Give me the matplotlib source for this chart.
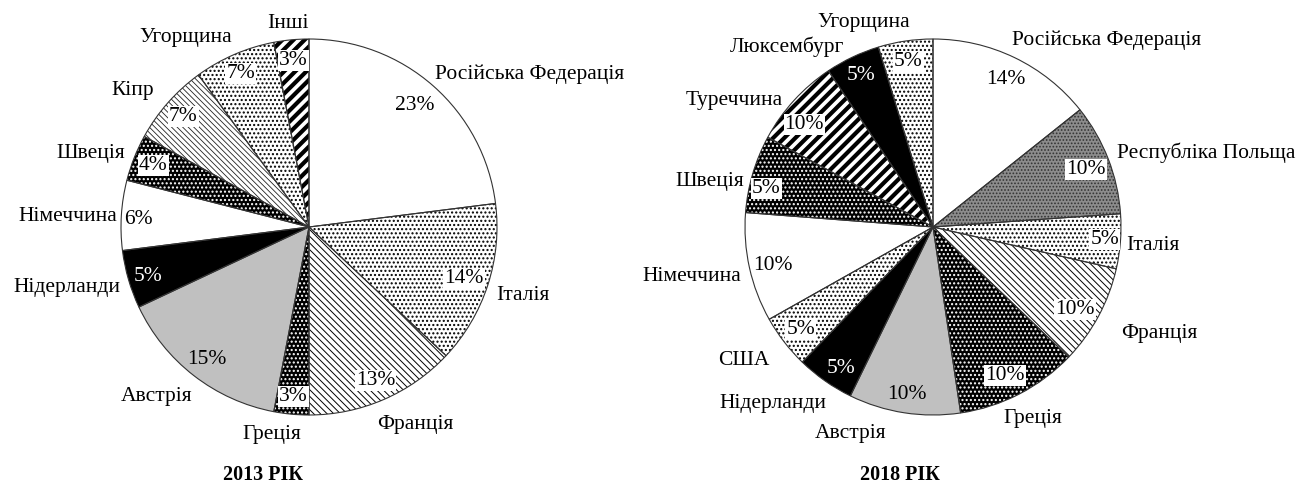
import numpy as np
import matplotlib
matplotlib.use('Agg')
import matplotlib.pyplot as plt

plt.rcParams['font.family'] = ['Liberation Serif', 'DejaVu Serif']
plt.rcParams['font.size'] = 15.5

# 2013
countries_2013 = ['Російська Федерація', 'Італія', 'Франція', 'Греція', 'Австрія',
                  'Нідерланди', 'Німеччина', 'Швеція', 'Кіпр', 'Угорщина', 'Інші']
shares_2013 = [23, 14, 13, 3, 15, 5, 6, 4, 7, 7, 3]
pct_2013 = ['23%', '14%', '13%', '3%', '15%', '5%', '6%', '4%', '7%', '7%', '3%']
styles_2013 = ['white', 'dots', 'lines', 'darkdots', 'grey', 'black',
               'white', 'darkdots', 'crosslines', 'dots', 'stripes']

# 2018 (wedge shares, labels as printed)
countries_2018 = ['Російська Федерація', 'Республіка Польща', 'Італія', 'Франція', 'Греція',
                  'Австрія', 'Нідерланди', 'США', 'Німеччина', 'Швеція', 'Туреччина',
                  'Люксембург', 'Угорщина']
shares_2018 = [14.3, 9.6, 4.7, 8.6, 10.5, 9.6, 5.0, 4.6, 9.4, 6.7, 7.7, 4.7, 4.7]
pct_2018 = ['14%', '10%', '5%', '10%', '10%', '10%', '5%', '5%', '10%', '5%', '10%', '5%', '5%']
styles_2018 = ['white', 'greydots', 'dots', 'lines', 'darkdots', 'grey', 'black',
               'dots', 'white', 'darkdots', 'stripes', 'black', 'dots']

# label nudges in pixels (dx right, dy down) for the country names and the percentages
name_nudge_2013 = [(-11, 2), (-10, 5), (-14, 8), (-18, 2), (10, 6), (10, 3), (15, 2),
                   (8, 3), (0, 0), (5, 0), (-2, 2)]
pct_nudge_2013 = [(-5, 4), (-4, 0), (0, 0), (0, 3), (0, 0), (0, 3), (-4, 3),
                  (0, 0), (0, 0), (-2, 0), (0, 0)]
name_nudge_2018 = [(-11, 0), (-9, 1), (-13, 3), (6, 8), (-25, 8), (-15, 2), (12, 7),
                   (0, 7), (10, 5), (10, 13), (3, 13), (0, 7), (7, 0)]
pct_nudge_2018 = [(0, 3), (-3, 3), (5, 0), (-5, 3), (-5, 0), (0, 2), (4, 5), (0, 0),
                  (3, 2), (-6, 9), (-5, 10), (0, 0), (0, 0)]

# fill colour, hatch, hatch colour, hatch width, text colour, label box
STYLE = {
    'white':      ('white', None, 'black', 1.0, 'black', False),
    'dots':       ('white', '....', 'black', 1.0, 'black', True),
    'lines':      ('white', '\\\\\\\\\\', 'black', 0.7, 'black', True),
    'crosslines': ('white', '\\\\\\\\\\\\', '#222222', 0.6, 'black', True),
    'darkdots':   ('black', '....', 'white', 1.0, 'black', True),
    'greydots':   ('#8c8c8c', '.....', '#333333', 0.8, 'black', True),
    'grey':       ('#c0c0c0', None, 'black', 1.0, 'black', False),
    'black':      ('black', None, 'black', 1.0, 'white', False),
    'stripes':    ('white', '///', 'black', 3.0, 'black', True),
}

W, H = 1299, 493
R = 188.0


def draw_pie(ax, cx, cy, x0, x1, values, names, pcts, styles, nn, pn):
    wedges, _ = ax.pie(values, startangle=90, counterclock=False, radius=1,
                       wedgeprops=dict(linewidth=0))
    for w, st in zip(wedges, styles):
        fc, hatch, hc, hlw, _, _ = STYLE[st]
        w.set_facecolor(fc)
        w.set_edgecolor(hc)
        if hatch:
            w.set_hatch(hatch)
            if hasattr(w, 'set_hatch_linewidth'):
                w.set_hatch_linewidth(hlw)
    # outlines
    ax.pie(values, startangle=90, counterclock=False, radius=1,
           wedgeprops=dict(fill=False, edgecolor='#333333', linewidth=0.8))
    for i, (w, name, pct, st) in enumerate(zip(wedges, names, pcts, styles)):
        ang = np.deg2rad((w.theta1 + w.theta2) / 2)
        tc, box = STYLE[st][4], STYLE[st][5]
        bb = dict(facecolor='white', edgecolor='none', pad=0.8) if box else None
        ax.text(0.89 * np.cos(ang) + pn[i][0] / R, 0.89 * np.sin(ang) - pn[i][1] / R, pct,
                ha='center', va='center', color=tc, bbox=bb)
        x, y = 1.1 * np.cos(ang), 1.1 * np.sin(ang)
        if abs(x) < 0.15:
            ha = 'center'
        else:
            ha = 'left' if x > 0 else 'right'
        ax.text(x + nn[i][0] / R, y - nn[i][1] / R, name, ha=ha, va='center')
    # axes pixel box -> data limits so that 1 unit = R pixels (cy from top)
    ax.set_xlim((x0 - cx) / R, (x1 - cx) / R)
    ax.set_ylim(-(H - cy) / R, cy / R)
    ax.axis('off')


fig = plt.figure(figsize=(W / 100, H / 100), dpi=100)
ax1 = fig.add_axes([0, 0, 650 / W, 1])
ax2 = fig.add_axes([650 / W, 0, 649 / W, 1])
draw_pie(ax1, 309, 227, 0, 650, shares_2013, countries_2013, pct_2013, styles_2013,
         name_nudge_2013, pct_nudge_2013)
draw_pie(ax2, 933 - 650, 227, 0, 649, shares_2018, countries_2018, pct_2018, styles_2018,
         name_nudge_2018, pct_nudge_2018)

fig.text(263 / W, 1 - 475 / H, '2013 РІК', ha='center', va='center', fontweight='bold',
         fontsize=14.5)
fig.text(900 / W, 1 - 475 / H, '2018 РІК', ha='center', va='center', fontweight='bold',
         fontsize=14.5)

fig.savefig('out.png', dpi=100)
